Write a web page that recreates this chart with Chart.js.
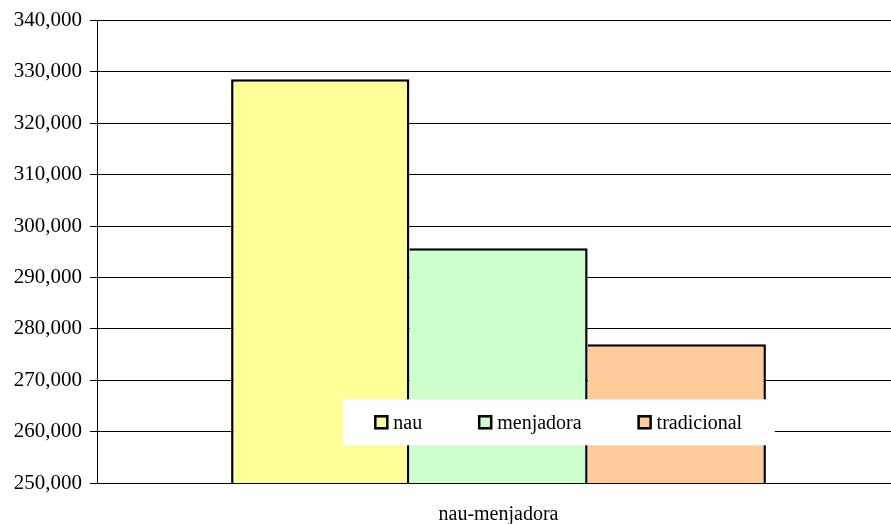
<!DOCTYPE html>
<html>
<head>
<meta charset="utf-8">
<script src="https://cdn.jsdelivr.net/npm/chart.js@4"></script>
<style>
  html, body { margin: 0; padding: 0; background: #fff; overflow: hidden; }
  /* plot runs a little past the right edge of the window */
  #wrap { width: 900px; height: 524px; }
</style>
</head>
<body>
<div id="wrap"><canvas id="myChart"></canvas></div>
<script>
// DATA

const categories = ["nau-menjadora"];
const seriesNames = ["nau", "menjadora", "tradicional"];
const seriesValues = [[328600], [295700], [277000]];
const seriesColors = ["#FFFF99", "#CCFFCC", "#FFCC99"];
const yMin = 250000;
const yMax = 340000;
const yStep = 10000;

const FONT = "'Liberation Serif', 'Times New Roman', serif";

// LEGEND BOX INSIDE PLOT

const insideLegend = {
  id: "insideLegend",
  afterDatasetsDraw(chart) {
    const { ctx, chartArea } = chart;
    const w = chartArea.right - chartArea.left;
    const h = chartArea.bottom - chartArea.top;
    const bx = chartArea.left + w * 0.306;
    const bw = w * 0.538;
    const by = chartArea.top + h * 0.819;
    const bh = h * 0.0994;

    ctx.save();
    ctx.fillStyle = "#fff";
    ctx.fillRect(bx, by, bw, bh);

    ctx.font = "20px " + FONT;
    ctx.textBaseline = "middle";
    const box = 12, gap = 6, spacing = 57;
    const items = chart.data.datasets.map((ds) => ({
      label: ds.label,
      color: ds.backgroundColor,
      width: box + gap + ctx.measureText(ds.label).width,
    }));
    const total = items.reduce((s, it) => s + it.width, 0) + spacing * (items.length - 1);
    let x = bx + (bw - total) / 2;
    const cy = by + bh / 2;
    items.forEach((it) => {
      ctx.fillStyle = it.color;
      ctx.fillRect(x, cy - box / 2, box, box);
      ctx.lineWidth = 2.5;
      ctx.strokeStyle = "#000";
      ctx.strokeRect(x, cy - box / 2, box, box);
      ctx.fillStyle = "#000";
      ctx.fillText(it.label, x + box + gap, cy + 1);
      x += it.width + spacing;
    });
    ctx.restore();
  },
};

// BAR CHART

const ctx = document.getElementById("myChart");

new Chart(ctx, {
  type: "bar",
  data: {
    labels: categories,
    datasets: seriesNames.map((name, i) => ({
      label: name,
      data: seriesValues[i],
      backgroundColor: seriesColors[i],
      borderColor: "#000",
      borderWidth: 2.5,
      // neighbours share one edge line
      borderSkipped: i === 0 ? false : "left",
      barPercentage: 1,
      categoryPercentage: 0.666,
    })),
  },
  options: {
    responsive: true,
    maintainAspectRatio: false,
    animation: false,
    layout: {
      padding: { top: 20, left: 0, right: 0, bottom: 0 },
    },
    plugins: {
      legend: { display: false },
      tooltip: { enabled: false },
    },
    scales: {
      x: {
        grid: { display: false },
        border: { display: false },
        ticks: {
          color: "#000",
          font: { family: FONT, size: 20 },
          padding: 12,
        },
        afterFit(scale) {
          scale.height = 41;
        },
      },
      y: {
        min: yMin,
        max: yMax,
        ticks: {
          stepSize: yStep,
          color: "#000",
          font: { family: FONT, size: 21 },
          padding: 8,
          callback: (v) => v.toLocaleString("en-US"),
        },
        grid: {
          color: "#000",
          lineWidth: 1,
          tickLength: 7,
          drawTicks: true,
        },
        border: { display: true, color: "#000", width: 1 },
        afterFit(scale) {
          scale.width = 97;
        },
      },
    },
  },
  plugins: [insideLegend],
});
</script>
</body>
</html>
